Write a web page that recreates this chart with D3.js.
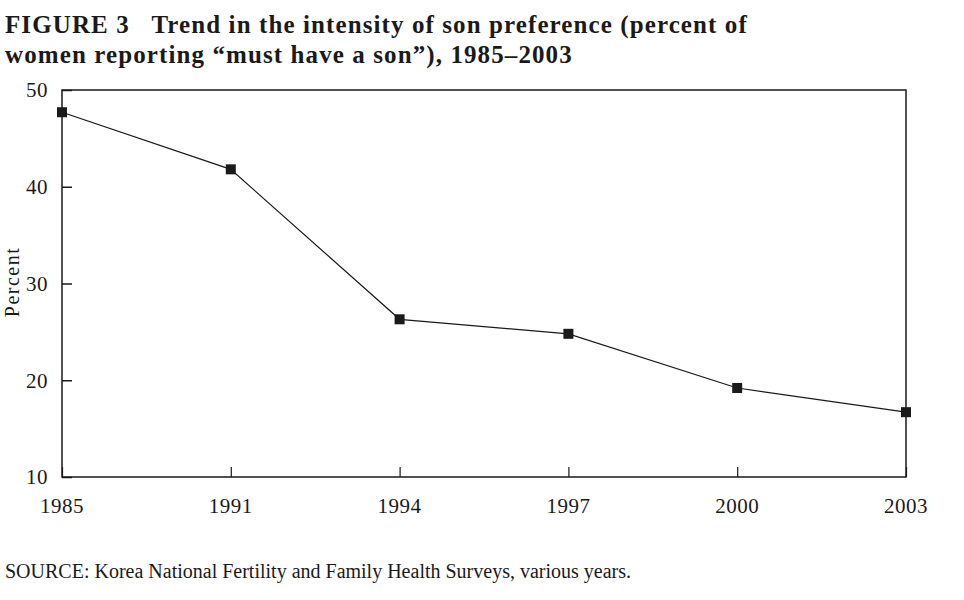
<!DOCTYPE html>
<html>
<head>
<meta charset="utf-8">
<script src="https://cdn.jsdelivr.net/npm/d3@7"></script>
<style>
  body { margin: 0; background: #fff; }
</style>
</head>
<body>
<div id="chart"></div>
<script>
// Survey years and share of women saying they "must have a son"
var years = ["1985", "1991", "1994", "1997", "2000", "2003"];
var percents = [47.7, 41.8, 26.3, 24.8, 19.2, 16.7];
var yTicks = [10, 20, 30, 40, 50];

var titleLines = [
  "FIGURE 3   Trend in the intensity of son preference (percent of",
  "women reporting \u201cmust have a son\u201d), 1985\u20132003"
];
var sourceText = "SOURCE: Korea National Fertility and Family Health Surveys, various years.";

var width = 964, height = 600;
var serif = "'Liberation Serif', 'DejaVu Serif', serif";
var ink = "#1a1a1a";

var svg = d3.select("#chart").append("svg")
  .attr("width", width)
  .attr("height", height)
  .style("font-family", serif);

// plot box (don't call it "top", that clashes with window.top)
var plotLeft = 62, plotRight = 906, plotTop = 90, plotBottom = 477;

var x = d3.scalePoint()
  .domain(years)
  .range([plotLeft, plotRight]);

var y = d3.scaleLinear()
  .domain([10, 50])
  .range([plotBottom, plotTop]);

// title
svg.append("g").selectAll("text")
  .data(titleLines)
  .enter().append("text")
  .attr("x", 5)
  .attr("y", function(d, i) { return 33 + i * 30; })
  .attr("font-size", 25)
  .attr("font-weight", "bold")
  .attr("letter-spacing", 1.1)
  .attr("fill", ink)
  .style("white-space", "pre")
  .text(function(d) { return d; });

// frame
svg.append("rect")
  .attr("x", plotLeft)
  .attr("y", plotTop)
  .attr("width", plotRight - plotLeft)
  .attr("height", plotBottom - plotTop)
  .attr("fill", "none")
  .attr("stroke", ink)
  .attr("stroke-width", 1.5);

// y axis, ticks pointing inward
var yAxis = svg.append("g")
  .attr("transform", "translate(" + plotLeft + ",0)")
  .call(d3.axisRight(y).tickValues(yTicks).tickSize(10).tickFormat(""));
yAxis.select(".domain").remove();
yAxis.selectAll("line").attr("stroke", ink).attr("stroke-width", 1.5);

svg.append("g").selectAll("text")
  .data(yTicks)
  .enter().append("text")
  .attr("x", 48)
  .attr("y", function(d) { return y(d); })
  .attr("dy", "0.35em")
  .attr("text-anchor", "end")
  .attr("font-size", 21)
  .attr("letter-spacing", 0.5)
  .attr("fill", ink)
  .text(function(d) { return d; });

// x axis, ticks pointing up
var xAxis = svg.append("g")
  .attr("transform", "translate(0," + plotBottom + ")")
  .call(d3.axisTop(x).tickSize(10).tickFormat(""));
xAxis.select(".domain").remove();
xAxis.selectAll("line").attr("stroke", ink).attr("stroke-width", 1.2);

svg.append("g").selectAll("text")
  .data(years)
  .enter().append("text")
  .attr("x", function(d) { return x(d); })
  .attr("y", 513)
  .attr("text-anchor", "middle")
  .attr("font-size", 21)
  .attr("letter-spacing", 0.5)
  .attr("fill", ink)
  .text(function(d) { return d; });

// y label
svg.append("text")
  .attr("transform", "translate(19,282) rotate(-90)")
  .attr("text-anchor", "middle")
  .attr("font-size", 20)
  .attr("letter-spacing", 1.5)
  .attr("fill", ink)
  .text("Percent");

// line + square markers
var pts = years.map(function(d, i) { return { year: d, value: percents[i] }; });

svg.append("path")
  .datum(pts)
  .attr("fill", "none")
  .attr("stroke", ink)
  .attr("stroke-width", 1.2)
  .attr("d", d3.line()
    .x(function(d) { return x(d.year); })
    .y(function(d) { return y(d.value); }));

var s = 10;
svg.append("g").selectAll("rect")
  .data(pts)
  .enter().append("rect")
  .attr("x", function(d) { return x(d.year) - s / 2; })
  .attr("y", function(d) { return y(d.value) - s / 2; })
  .attr("width", s)
  .attr("height", s)
  .attr("fill", ink);

// source note
svg.append("text")
  .attr("x", 5)
  .attr("y", 578)
  .attr("font-size", 20)
  .attr("fill", ink)
  .text(sourceText);
</script>
</body>
</html>
